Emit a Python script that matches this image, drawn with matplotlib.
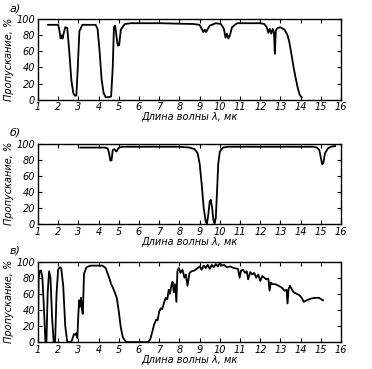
import matplotlib
matplotlib.use("Agg")
import matplotlib.pyplot as plt

# Спектр а)
wl_a = [1.5, 2.0, 2.05, 2.12, 2.18, 2.22, 2.28, 2.35, 2.45, 2.55, 2.65, 2.75,
        2.82, 2.9, 2.97, 3.05, 3.2, 3.5, 3.85, 3.95, 4.05, 4.15, 4.25, 4.35,
        4.5, 4.62, 4.7, 4.76, 4.82, 4.88, 4.95, 5.02, 5.1, 5.3, 5.6, 7.0, 8.7,
        9.0, 9.1, 9.18, 9.25, 9.32, 9.5, 9.8, 10.05, 10.2, 10.28, 10.35, 10.42,
        10.5, 10.6, 10.85, 11.2, 12.0, 12.2, 12.32, 12.4, 12.47, 12.55, 12.62,
        12.68, 12.72, 12.77, 12.85, 13.0, 13.2, 13.35, 13.45, 13.55, 13.65,
        13.75, 13.85, 13.95, 14.05]
tr_a = [93, 93, 88, 76, 80, 76, 83, 90, 89, 60, 25, 8,
        5, 5, 40, 85, 93, 93, 93, 88, 60, 25, 8, 3,
        3, 4, 40, 90, 92, 80, 67, 68, 87, 94, 95, 95, 94,
        93, 88, 84, 87, 84, 92, 95, 94, 88, 77, 82, 76,
        80, 90, 95, 95, 95, 94, 90, 83, 88, 82, 88,
        83, 57, 86, 89, 90, 87, 80, 70, 55, 40,
        27, 15, 6, 3]

# Спектр б)
wl_b = [3.1, 4.3, 4.45, 4.52, 4.58, 4.64, 4.7, 4.78, 4.88, 5.0, 5.2, 8.0,
        8.5, 8.75, 8.9, 9.0, 9.1, 9.2, 9.3, 9.36, 9.42, 9.5, 9.55, 9.62, 9.68,
        9.74, 9.8, 9.86, 9.92, 10.0, 10.15, 10.4, 14.6, 14.8, 14.92, 15.0,
        15.06, 15.12, 15.2, 15.35, 15.5, 15.7]
tr_b = [95, 95, 94, 88, 79, 79, 92, 93, 90, 95, 96, 96,
        95, 93, 88, 75, 50, 20, 3, 0, 10, 28, 30, 20, 5,
        0, 8, 40, 75, 90, 95, 96, 96, 95, 92, 82,
        74, 76, 88, 94, 96, 97]

# Спектр в)
wl_c = [1.0, 1.03, 1.08, 1.15, 1.22, 1.3, 1.37, 1.42, 1.48, 1.55, 1.62,
        1.7, 1.78, 1.85, 1.92, 2.0, 2.08, 2.15, 2.25, 2.35, 2.45, 2.65, 2.72,
        2.78, 2.85, 2.9, 2.95, 3.0, 3.04, 3.08, 3.13, 3.18, 3.22, 3.28, 3.4,
        3.6, 4.2, 4.35, 4.45, 4.55, 4.62, 4.7, 4.8, 4.9, 5.0, 5.1, 5.2, 5.35,
        6.45, 6.55, 6.65, 6.75, 6.85, 6.92, 7.0, 7.08, 7.15, 7.25, 7.32, 7.4,
        7.47, 7.53, 7.6, 7.66, 7.72, 7.78, 7.85, 7.9, 7.97, 8.05, 8.15, 8.25,
        8.32, 8.4, 8.5, 8.6, 8.75, 8.9, 9.0, 9.1, 9.2, 9.3, 9.4, 9.5, 9.6,
        9.7, 9.8, 9.9, 10.0, 10.1, 10.2, 10.35, 10.5, 10.7, 10.9, 10.98, 11.05,
        11.15, 11.25, 11.33, 11.4, 11.5, 11.6, 11.7, 11.8, 11.9, 12.0, 12.1,
        12.2, 12.3, 12.4, 12.46, 12.52, 12.6, 12.75, 12.9, 13.05, 13.2, 13.3,
        13.35, 13.4, 13.47, 13.55, 13.65, 13.8, 13.95, 14.05, 14.15, 14.3,
        14.5, 14.7, 14.9, 15.1]
tr_c = [0, 78, 88, 89, 80, 40, 0, 0, 60, 88, 80,
        30, 0, 0, 60, 90, 93, 92, 70, 20, 0, 0, 5,
        10, 9, 11, 5, 35, 52, 44, 55, 40, 35, 85, 93,
        95, 95, 92, 85, 78, 72, 68, 62, 55, 38, 18, 6, 0,
        0, 3, 12, 22, 28, 27, 38, 42, 41, 50, 55, 53,
        65, 60, 70, 75, 62, 72, 50, 88, 92, 86, 90, 80,
        84, 70, 86, 88, 89, 92, 94, 90, 95, 92, 96, 91, 96,
        93, 97, 94, 98, 95, 96, 93, 94, 92, 91, 80, 89,
        90, 86, 88, 78, 87, 84, 86, 80, 84, 76, 82,
        80, 78, 79, 64, 74, 72, 72, 70, 68, 64, 65,
        48, 66, 70, 66, 62, 60, 58, 55, 50, 52,
        54, 55, 55, 52]

spectres = [("а)", wl_a, tr_a), ("б)", wl_b, tr_b), ("в)", wl_c, tr_c)]
positions = [0.73, 0.393, 0.073]

police = {"family": "DejaVu Sans", "style": "italic", "size": 7}

fig = plt.figure(figsize=(3.72, 3.69), dpi=100)

for (nom, wl, tr), bas in zip(spectres, positions):
    ax = fig.add_axes([0.102, bas, 0.815, 0.218])
    ax.plot(wl, tr, color="black", lw=1.3)
    ax.set_xlim(1, 16)
    ax.set_ylim(0, 100)
    ax.set_xticks(range(1, 17))
    ax.set_yticks(range(0, 101, 20))
    ax.tick_params(direction="in", top=True, right=True, length=3,
                   width=0.8, pad=2)
    for lab in ax.get_xticklabels() + ax.get_yticklabels():
        lab.set_fontproperties(police)
    ax.set_xlabel("Длина волны λ, мк", fontdict=police, labelpad=0)
    ax.set_ylabel("Пропускание, %", fontdict=police, labelpad=2)
    for s in ax.spines.values():
        s.set_linewidth(1.0)
    fig.text(0.025, bas + 0.218 + 0.022, nom, fontsize=8, style="italic")

fig.savefig("out.png", dpi=100)
